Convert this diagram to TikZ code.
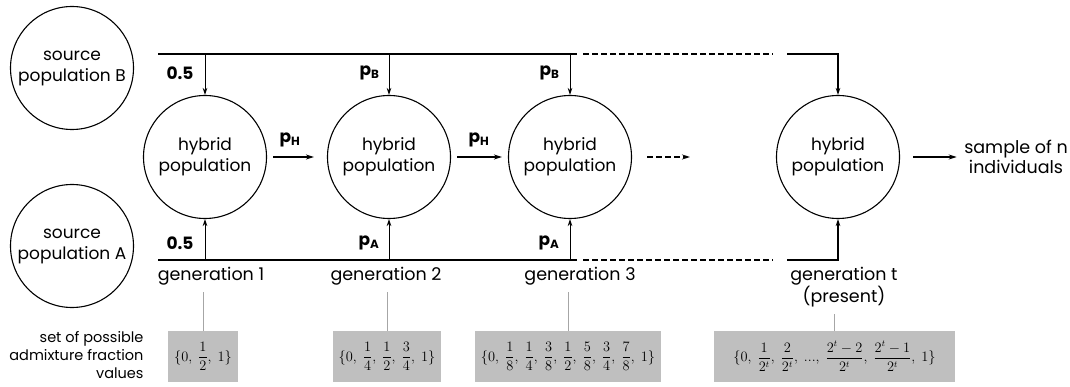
\documentclass[tikz,border=0pt]{standalone}
\usepackage{amsmath}
\usepackage{fontspec}
\setmainfont{Poppins}
\usetikzlibrary{arrows.meta}

\begin{document}
\begin{tikzpicture}[x=1pt,y=-1pt,
	pop/.style={circle,draw,line width=1.1pt,minimum size=123pt,inner sep=0,align=center,
		font=\fontsize{17}{21}\selectfont},
	txt/.style={align=center,font=\fontsize{17.5}{20}\selectfont},
	prob/.style={font=\fontsize{17}{17}\selectfont\bfseries},
	setbox/.style={fill=black!25,minimum height=51pt,inner xsep=6pt,font=\fontsize{13.5}{15}\selectfont},
	flow/.style={line width=1.7pt},
	dots/.style={dash pattern=on 6pt off 3pt},
	arr/.style={line width=1pt,-{Stealth[length=7pt,width=4.5pt]}},
	harr/.style={line width=1.6pt,-{Stealth[length=8pt,width=5pt]}},
	link/.style={draw=black!35,line width=0.8pt}]
\useasboundingbox (0,0) rectangle (1070,387);

% populations
\node[pop] (srcB) at (72,68) {source\\population B};
\node[pop] (srcA) at (72,246) {source\\population A};
\node[pop] (hyb1) at (205,157) {hybrid\\population};
\node[pop] (hyb2) at (389,157) {hybrid\\population};
\node[pop] (hyb3) at (570,157) {hybrid\\population};
\node[pop] (hybt) at (838,157) {hybrid\\population};
\node[txt] (sample) at (1016,157) {sample of n\\individuals};

% gene flow from B (top) and A (bottom)
\coordinate (bL) at (158,54);
\coordinate (bR) at (577,54);
\coordinate (bD) at (583,54);
\coordinate (bE) at (773,54);
\coordinate (bT) at (787,54);
\coordinate (aL) at (158,260);
\coordinate (aR) at (577,260);
\coordinate (aD) at (583,260);
\coordinate (aE) at (773,260);
\coordinate (aT) at (787,260);
\draw[flow] (bL) -- (bR);
\draw[flow,dots] (bD) -- (bE);
\draw[flow,-{Stealth[length=7pt,width=4.5pt]}] (bT) -| (hybt.north);
\draw[flow] (aL) -- (aR);
\draw[flow,dots] (aD) -- (aE);
\draw[flow,-{Stealth[length=7pt,width=4.5pt]}] (aT) -| (hybt.south);
\foreach \h in {hyb1,hyb2,hyb3}{
	\draw[arr] (\h |- bL) -- (\h.north);
	\draw[arr] (\h |- aL) -- (\h.south);
}

% proportions
\node[prob,anchor=east] (b1) at (197,73) {0.5};
\node[prob,anchor=east] (b2) at (383,73) {p\textsubscript{B}};
\node[prob,anchor=east] (b3) at (563,73) {p\textsubscript{B}};
\node[prob,anchor=east] (a1) at (197,243) {0.5};
\node[prob,anchor=east] (a2) at (383,243) {p\textsubscript{A}};
\node[prob,anchor=east] (a3) at (563,243) {p\textsubscript{A}};
\node[prob] (h1) at (290,140) {p\textsubscript{H}};
\node[prob] (h2) at (479,140) {p\textsubscript{H}};

% hybrid to hybrid
\coordinate (more) at (690,157);
\draw[harr,shorten <=6pt,shorten >=13pt] (hyb1) -- (hyb2);
\draw[harr,shorten <=6pt,shorten >=6pt] (hyb2) -- (hyb3);
\draw[harr,dots,shorten <=15pt] (hyb3) -- (more);
\draw[harr,shorten <=13pt,shorten >=4pt] (hybt) -- (sample);

% generations
\node[txt,anchor=north] (gen1) at (211,264) {generation 1};
\node[txt,anchor=north] (gen2) at (386,264) {generation 2};
\node[txt,anchor=north] (gen3) at (580,264) {generation 3};
\node[txt,anchor=north] (gent) at (844,264) {generation t\\(present)};

% sets of admixture fractions
\node[align=right,anchor=east,font=\fontsize{14.5}{18}\selectfont] (setlab) at (147,355)
	{set of possible\\admixture fraction\\values};
\node[setbox] (set1) at (203,356.5) {$\{0,\ \dfrac{1}{2},\ 1\}$};
\node[setbox] (set2) at (387,356.5) {$\{0,\ \dfrac{1}{4},\ \dfrac{1}{2},\ \dfrac{3}{4},\ 1\}$};
\node[setbox] (set3) at (568,356.5) {$\{0,\ \dfrac{1}{8},\ \dfrac{1}{4},\ \dfrac{3}{8},\ \dfrac{1}{2},\ \dfrac{5}{8},\ \dfrac{3}{4},\ \dfrac{7}{8},\ 1\}$};
\node[setbox,minimum width=241pt] (sett) at (834.5,356.5) {$\{0,\ \dfrac{1}{2^t},\ \dfrac{2}{2^t},\ ...,\ \dfrac{2^t-2}{2^t},\ \dfrac{2^t-1}{2^t},\ 1\}$};
\draw[link] (set1.north) -- ++(0,-39);
\draw[link] (set2.north) -- ++(0,-39);
\draw[link] (set3.north) -- ++(0,-39);
\draw[link] (sett.north) -- ++(0,-17);
\end{tikzpicture}
\end{document}
